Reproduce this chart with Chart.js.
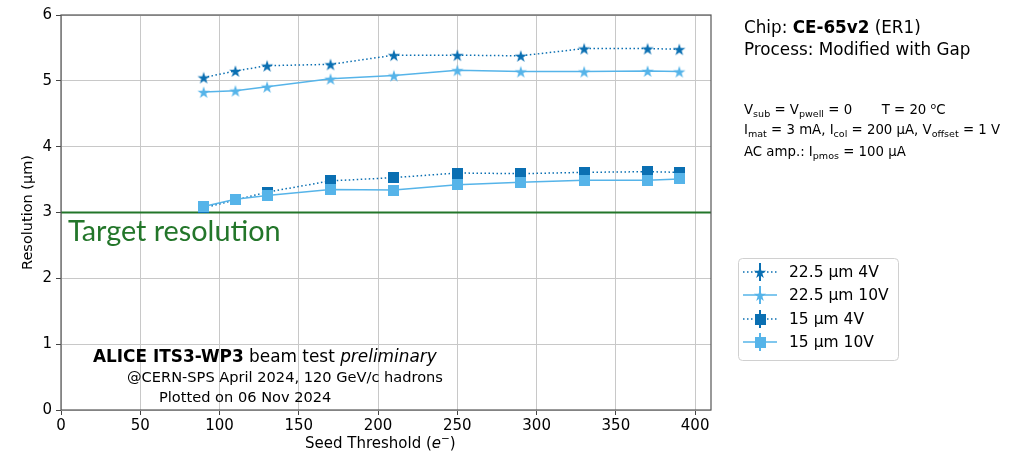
<!DOCTYPE html>
<html>
<head>
<meta charset="utf-8">
<script src="https://cdn.jsdelivr.net/npm/chart.js@4.4.1/dist/chart.umd.min.js"></script>
<style>
body { margin: 0; background: #fff; font-family: 'DejaVu Sans', sans-serif; }
#wrap { position: relative; width: 1031px; height: 453px; overflow: hidden; }
.t { position: absolute; white-space: nowrap; color: #000; line-height: 1; }
.t sub { font-size: 72%; vertical-align: -0.3em; line-height: 0; }
</style>
</head>
<body>
<div id="wrap">
  <canvas id="chart" width="1031" height="453"></canvas>

  <!-- 右上角说明文字 -->
  <div class="t" style="left:744px;top:19px;font-size:16.8px;">Chip: <b>CE-65v2</b> (ER1)</div>
  <div class="t" style="left:744px;top:41px;font-size:16.8px;">Process: Modified with Gap</div>
  <div class="t" style="left:744px;top:101px;font-size:13.3px;">V<sub>sub</sub> = V<sub>pwell</sub> = 0 &nbsp; &nbsp; &nbsp; T = 20 <sup style="font-size:70%">o</sup>C</div>
  <div class="t" style="left:744px;top:123px;font-size:13.3px;">I<sub>mat</sub> = 3 mA, I<sub>col</sub> = 200 µA, V<sub>offset</sub> = 1 V</div>
  <div class="t" style="left:744px;top:145px;font-size:13.3px;">AC amp.: I<sub>pmos</sub> = 100 µA</div>

  <!-- 左下角实验信息 -->
  <div class="t" style="left:93px;top:348px;font-size:16.9px;"><b>ALICE ITS3-WP3</b> beam test <i>preliminary</i></div>
  <div class="t" style="left:127px;top:370px;font-size:14.6px;">@CERN-SPS April 2024, 120 GeV/c hadrons</div>
  <div class="t" style="left:159px;top:390px;font-size:14.6px;">Plotted on 06 Nov 2024</div>

  <!-- 目标分辨率标注 -->
  <div class="t" style="left:68px;top:216px;font-size:28.8px;font-family:Lato,sans-serif;color:#23762a;">Target resolution</div>

  <!-- x 轴标题 -->
  <div class="t" style="left:305px;top:433px;font-size:15px;">Seed Threshold (<i>e</i><sup style="font-size:70%">−</sup>)</div>
</div>

<script>
// 数据：种子阈值与分辨率
const thresholds = [90, 110, 130, 170, 210, 250, 290, 330, 370, 390];
const res22_4V  = [5.05, 5.15, 5.23, 5.25, 5.39, 5.39, 5.38, 5.49, 5.49, 5.48];
const res22_10V = [4.83, 4.85, 4.91, 5.03, 5.08, 5.16, 5.14, 5.14, 5.15, 5.14];
const res15_4V  = [3.07, 3.19, 3.31, 3.48, 3.53, 3.60, 3.59, 3.61, 3.62, 3.61];
const res15_10V = [3.09, 3.20, 3.26, 3.35, 3.34, 3.42, 3.46, 3.49, 3.49, 3.51];
const seriesLabels = ['22.5 µm 4V', '22.5 µm 10V', '15 µm 4V', '15 µm 10V'];
const targetRes = 3;
const xTicks = [0, 50, 100, 150, 200, 250, 300, 350, 400];
const yTicks = [0, 1, 2, 3, 4, 5, 6];

const DARK = '#0a6fb2';
const LIGHT = '#56b4e9';
const GREEN = '#23762a';

// 实心五角星标记（Chart.js 自带的 star 是线条）
function makeStar(color, size) {
    const c = document.createElement('canvas');
    c.width = size; c.height = size;
    const ctx = c.getContext('2d');
    const R = size / 2 - 0.5, r = R * 0.382, cx = size / 2, cy = size / 2 + 0.8;
    ctx.beginPath();
    for (let i = 0; i < 10; i++) {
        const rad = i % 2 === 0 ? R : r;
        const a = -Math.PI / 2 + i * Math.PI / 5;
        ctx.lineTo(cx + rad * Math.cos(a), cy + rad * Math.sin(a));
    }
    ctx.closePath();
    ctx.fillStyle = color;
    ctx.fill();
    return c;
}
function makeSquare(color, size) {
    const c = document.createElement('canvas');
    c.width = size; c.height = size;
    const ctx = c.getContext('2d');
    ctx.fillStyle = color;
    ctx.fillRect(0, 0, size, size);
    return c;
}

const markers = [makeStar(DARK, 14), makeStar(LIGHT, 14), makeSquare(DARK, 11), makeSquare(LIGHT, 11)];
const colors = [DARK, LIGHT, DARK, LIGHT];
const dashed = [true, false, true, false];
const seriesData = [res22_4V, res22_10V, res15_4V, res15_10V];

const datasets = seriesData.map((vals, i) => ({
    label: seriesLabels[i],
    data: thresholds.map((x, j) => ({ x: x, y: vals[j] })),
    borderColor: colors[i],
    backgroundColor: colors[i],
    borderWidth: 1.5,
    borderDash: dashed[i] ? [1.5, 2.5] : [],
    pointStyle: markers[i],
    pointRadius: 6,
    pointHoverRadius: 6,
    order: 3 - i // 后画的在上面
}));
datasets.push({
    label: 'target',
    data: [{ x: 0, y: targetRes }, { x: 410, y: targetRes }],
    borderColor: GREEN,
    borderWidth: 1.8,
    pointRadius: 0,
    order: 10
});

// 边框 + 图例（手动绘制，位置在图外）
const framePlugin = {
    id: 'frame',
    afterDraw(chart) {
        const { ctx, chartArea: a } = chart;
        ctx.save();
        ctx.strokeStyle = '#555';
        ctx.lineWidth = 1.2;
        ctx.strokeRect(a.left, a.top, a.right - a.left, a.bottom - a.top);

        // 图例
        const lx = 738, ly = 258, lw = 160, lh = 102;
        ctx.beginPath();
        ctx.roundRect(lx + 0.5, ly + 0.5, lw, lh, 4);
        ctx.fillStyle = 'rgba(255,255,255,0.9)';
        ctx.fill();
        ctx.strokeStyle = '#d0d0d0';
        ctx.lineWidth = 1;
        ctx.stroke();
        const rows = [272, 295, 319, 342];
        ctx.font = '15.5px "DejaVu Sans"';
        ctx.textBaseline = 'middle';
        rows.forEach((y, i) => {
            ctx.strokeStyle = colors[i];
            ctx.lineWidth = 1.5;
            ctx.setLineDash(dashed[i] ? [1.5, 2.5] : []);
            ctx.beginPath();
            ctx.moveTo(743, y); ctx.lineTo(777, y);
            ctx.stroke();
            ctx.setLineDash([]);
            ctx.lineWidth = 2;
            ctx.beginPath();
            ctx.moveTo(760, y - 9); ctx.lineTo(760, y + 9);
            ctx.stroke();
            const m = markers[i];
            ctx.drawImage(m, 760 - m.width / 2, y - m.height / 2);
            ctx.fillStyle = '#000';
            ctx.fillText(seriesLabels[i], 789, y + 1);
        });
        ctx.restore();
    }
};

new Chart(document.getElementById('chart'), {
    type: 'line',
    data: { datasets },
    plugins: [framePlugin],
    options: {
        responsive: false,
        animation: false,
        layout: { padding: { top: 15, right: 320, left: 0, bottom: 0 } },
        plugins: { legend: { display: false }, tooltip: { enabled: false } },
        scales: {
            x: {
                type: 'linear',
                min: 0, max: 410,
                afterFit(scale) { scale.height = 43; },
                afterBuildTicks(scale) { scale.ticks = xTicks.map(v => ({ value: v })); },
                ticks: { color: '#000', font: { family: 'DejaVu Sans', size: 15 }, padding: 2 },
                grid: { color: '#c8c8c8', lineWidth: 1, tickLength: 5, tickColor: '#444' },
                border: { display: false }
            },
            y: {
                min: 0, max: 6,
                afterFit(scale) { scale.width = 61; },
                afterBuildTicks(scale) { scale.ticks = yTicks.map(v => ({ value: v })); },
                ticks: { color: '#000', font: { family: 'DejaVu Sans', size: 15 }, padding: 4 },
                grid: { color: '#c8c8c8', lineWidth: 1, tickLength: 5, tickColor: '#444' },
                border: { display: false },
                title: { display: true, text: 'Resolution (µm)', color: '#000', font: { family: 'DejaVu Sans', size: 14.5 }, padding: { top: 20, bottom: 0 } }
            }
        }
    }
});
</script>
</body>
</html>
